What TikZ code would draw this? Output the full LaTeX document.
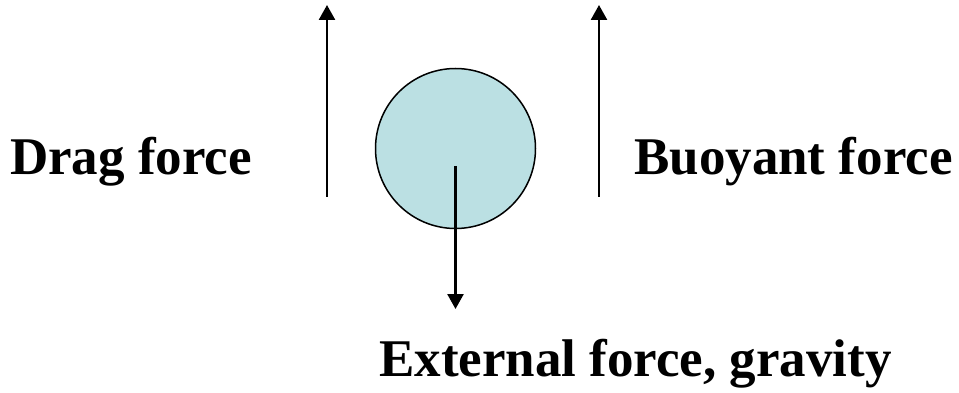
\documentclass[tikz,border=0pt]{standalone}
\usepackage{fontspec}
\setmainfont{Liberation Serif}
\usetikzlibrary{arrows.meta,positioning,calc}
\definecolor{ballblue}{HTML}{BBE0E3}
\begin{document}
\begin{tikzpicture}[x=1pt,y=-1pt,
      font=\fontsize{53}{60}\selectfont\bfseries,
      lbl/.style={inner sep=0pt,anchor=base west},
      force/.style={line width=2.5pt,-{Triangle[length=15pt,width=16pt]}}]
    \useasboundingbox (0,0) rectangle (959,393);
    \node[draw,line width=1.5pt,fill=ballblue,circle,minimum size=160pt,inner sep=0pt] (ball) at (455.5,148.5) {};
    \node[lbl] (drag) at (10,175) {Drag force};
    \node[lbl] (buoy) at (634,175) {Buoyant force};
    \node[lbl] (ext) at (379,376) {External force, gravity};
    % force arrows
    \coordinate (dragtail) at (327,197);
    \coordinate (draghead) at (327,5);
    \coordinate (buoytail) at (599,197);
    \coordinate (buoyhead) at (599,5);
    \coordinate (exttail) at (455.5,166);
    \coordinate (exthead) at (455.5,309);
    \draw[force] (dragtail) -- (draghead);
    \draw[force] (buoytail) -- (buoyhead);
    \draw[force] (exttail) -- (exthead);
  \end{tikzpicture}
\end{document}
